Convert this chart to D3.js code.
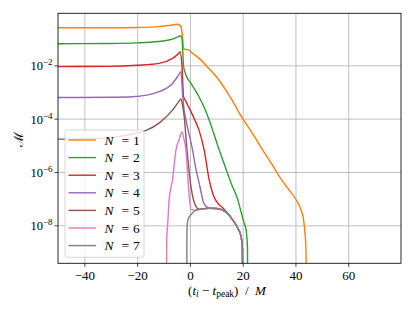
<!DOCTYPE html>
<html lang="en">
<head>
<meta charset="utf-8">
<title>Mismatch vs N</title>
<script src="https://cdn.jsdelivr.net/npm/d3@7/dist/d3.min.js"></script>
<style>
	body { margin: 0; background: #fff; }
	text { font-family: "Liberation Serif", "DejaVu Serif", serif; fill: #000; }
</style>
</head>
<body>
<div id="chart"></div>
<script>
// time (t_i - t_peak)/M and log10 of mismatch
var t1 = [-50, -30, -20, -12, -8, -6, -4.8, -4.3, -3.4, -2.8, -2.4, -1.8, -0.5, 1, 3.5, 7, 11, 15, 20, 24, 27.6, 31, 34, 37, 40.3, 42, 43, 43.7, 44.0, 44.3];
var logM1 = [-0.59, -0.59, -0.58, -0.55, -0.51, -0.48, -0.46, -0.47, -0.55, -0.93, -1.36, -1.40, -1.42, -1.55, -1.74, -2.1, -2.55, -3.15, -4.0, -4.6, -5.18, -5.7, -6.18, -6.6, -7.05, -7.4, -7.75, -8.4, -9.0, -12];

var t2 = [-50, -30, -20, -12, -8, -6, -4.5, -3.6, -3.0, -2.7, -2.4, -1.5, 0.5, 2, 3.5, 5.5, 7.3, 9, 11.1, 13, 15.6, 18, 19.4, 20.5, 21.3, 21.8, 22.1];
var logM2 = [-1.19, -1.18, -1.16, -1.11, -1.05, -1.0, -0.93, -0.89, -1.0, -1.5, -2.05, -2.36, -2.7, -2.93, -3.19, -3.6, -4.05, -4.55, -5.18, -5.7, -6.42, -7.0, -7.5, -7.9, -8.18, -8.8, -12];

var t3 = [-50, -30, -20, -11.7, -6.6, -4.5, -3.7, -3.0, -2.4, -1.8, -0.3, 2.3, 3.5, 5.4, 7.3, 9.2, 11, 12.5, 14.5, 16.2, 18, 19.4, 19.9, 20.1];
var logM3 = [-2.05, -2.04, -2.0, -1.93, -1.74, -1.58, -1.49, -2.05, -3.18, -3.3, -3.6, -4.15, -4.45, -5.18, -6.3, -6.95, -7.22, -7.35, -7.58, -7.8, -8.08, -8.43, -8.9, -12];

var t4 = [-50, -30, -21.8, -11.7, -6.6, -4.5, -3.4, -2.8, -2.2, -1.5, 1.0, 2.3, 3.5, 5.4, 7.3, 10, 12.4, 14.5, 16.2, 18, 19.4, 19.9, 20.1];
var logM4 = [-3.21, -3.2, -3.18, -2.99, -2.68, -2.4, -2.24, -3.05, -3.68, -4.05, -5.18, -5.9, -6.42, -7.2, -7.36, -7.37, -7.43, -7.58, -7.8, -8.08, -8.43, -8.9, -12];

var t5 = [-50, -35, -21.8, -11.7, -6.6, -4.5, -3.4, -2.8, -2.2, -1.1, 0.4, 2.3, 3.5, 5, 7.3, 10, 12.4, 14.5, 16.2, 18, 19.4, 19.9, 20.1];
var logM5 = [-4.77, -4.74, -4.58, -4.17, -3.68, -3.4, -3.26, -3.5, -3.9, -5.18, -6.55, -7.3, -7.4, -7.38, -7.36, -7.37, -7.43, -7.58, -7.8, -8.08, -8.43, -8.9, -12];

var t6 = [-8.95, -8.8, -8.25, -7.9, -6.6, -5.3, -4.0, -3.0, -2.3, -1.5, -0.65, 0.4, 2.3, 5, 7.3, 10, 12.4, 14.5, 16.2, 18, 19.4, 19.9, 20.1];
var logM6 = [-12, -8.6, -7.68, -7.05, -6.3, -5.18, -4.75, -4.5, -4.75, -5.18, -6.42, -7.4, -7.43, -7.38, -7.36, -7.37, -7.43, -7.58, -7.8, -8.08, -8.43, -8.9, -12];

var t7 = [-1.2, -1.15, -1.05, -0.6, 0.4, 2.3, 5, 7.3, 10, 12.4, 14.5, 16.2, 18, 19.4, 19.9, 20.1];
var logM7 = [-12, -8.4, -8.0, -7.75, -7.6, -7.43, -7.38, -7.36, -7.37, -7.43, -7.58, -7.8, -8.08, -8.43, -8.9, -12];

var nValues = [1, 2, 3, 4, 5, 6, 7];
var colors = ["#ff7f0e", "#2ca02c", "#d62728", "#9467bd", "#8c564b", "#e377c2", "#7f7f7f"];
var xTicks = [-40, -20, 0, 20, 40, 60];
var yTickExp = [-2, -4, -6, -8];

var allT = [t1, t2, t3, t4, t5, t6, t7];
var allLogM = [logM1, logM2, logM3, logM4, logM5, logM6, logM7];

var w = 415;
var h = 311;
var pLeft = 58, pRight = 401, pTop = 13.3, pBottom = 263.3;

var xScale = d3.scaleLinear()
	.domain([-50, 80])
	.range([pLeft, pRight]);

var yScale = d3.scaleLog()
	.domain([Math.pow(10, -9.425), Math.pow(10, -0.05)])
	.range([pBottom, pTop]);

var svg = d3.select("#chart").append("svg")
	.attr("width", w)
	.attr("height", h);

svg.append("defs").append("clipPath")
	.attr("id", "plotclip")
	.append("rect")
	.attr("x", pLeft)
	.attr("y", pTop)
	.attr("width", pRight - pLeft)
	.attr("height", pBottom - pTop);

var yTickVals = yTickExp.map(function(e) { return Math.pow(10, e); });

// grid
var grid = svg.append("g");
grid.append("g")
	.attr("transform", "translate(0," + pBottom + ")")
	.call(d3.axisBottom(xScale).tickValues(xTicks).tickSize(-(pBottom - pTop)).tickFormat(""));
grid.append("g")
	.attr("transform", "translate(" + pLeft + ",0)")
	.call(d3.axisLeft(yScale).tickValues(yTickVals).tickSize(-(pRight - pLeft)).tickFormat(""));
grid.selectAll(".domain").remove();
grid.selectAll(".tick line").attr("stroke", "#b0b0b0").attr("stroke-width", 0.8);

// curves
var line = d3.line()
	.x(function(d) { return xScale(d[0]); })
	.y(function(d) { return yScale(Math.pow(10, d[1])); })
	.curve(d3.curveMonotoneX);

var curves = svg.append("g").attr("clip-path", "url(#plotclip)");
nValues.forEach(function(n, i) {
	var pts = allT[i].map(function(t, j) { return [t, allLogM[i][j]]; });
	curves.append("path")
		.datum(pts)
		.attr("d", line)
		.attr("fill", "none")
		.attr("stroke", colors[i])
		.attr("stroke-width", 1.4);
});

// frame
svg.append("rect")
	.attr("x", pLeft)
	.attr("y", pTop)
	.attr("width", pRight - pLeft)
	.attr("height", pBottom - pTop)
	.attr("fill", "none")
	.attr("stroke", "#111")
	.attr("stroke-width", 0.9);

// axes with ticks
var xAxis = svg.append("g")
	.attr("transform", "translate(0," + pBottom + ")")
	.call(d3.axisBottom(xScale).tickValues(xTicks).tickSize(3.5).tickPadding(3.5)
		.tickFormat(function(d) { return d < 0 ? "\u2212" + Math.abs(d) : d; }));
xAxis.select(".domain").remove();
xAxis.selectAll("line").attr("stroke", "#111").attr("stroke-width", 0.8);
xAxis.selectAll("text").attr("font-size", 13);

var yAxis = svg.append("g")
	.attr("transform", "translate(" + pLeft + ",0)")
	.call(d3.axisLeft(yScale).tickValues(yTickVals).tickSize(3.5).tickPadding(3.5).tickFormat(""));
yAxis.select(".domain").remove();
yAxis.selectAll("line").attr("stroke", "#111").attr("stroke-width", 0.8);
yAxis.selectAll(".tick text").remove();
yAxis.selectAll(".tick").each(function(d, i) {
	var txt = d3.select(this).append("text")
		.attr("x", -5.5)
		.attr("y", 4.5)
		.attr("text-anchor", "end")
		.attr("font-size", 12.5);
	txt.append("tspan").text("10");
	txt.append("tspan")
		.attr("dy", -5)
		.attr("font-size", 9)
		.text("\u2212" + Math.abs(yTickExp[i]));
});

// axis labels
var xl = svg.append("text")
	.attr("x", 227)
	.attr("y", 294.5)
	.attr("text-anchor", "middle")
	.attr("font-size", 13);
xl.append("tspan").text("(");
xl.append("tspan").attr("font-style", "italic").text("t");
xl.append("tspan").attr("font-style", "italic").attr("font-size", 9.5).attr("dy", 2.5).text("i");
xl.append("tspan").attr("dy", -2.5).text(" \u2212 ");
xl.append("tspan").attr("font-style", "italic").text("t");
xl.append("tspan").attr("font-size", 9.5).attr("dy", 2.5).text("peak");
xl.append("tspan").attr("dy", -2.5).text(")\u2002/\u2002");
xl.append("tspan").attr("font-style", "italic").text("M");

svg.append("text")
	.attr("transform", "translate(23,139.5) rotate(-90)")
	.attr("text-anchor", "middle")
	.style("font-family", "DejaVu Serif")
	.attr("font-size", 13)
	.text("\u2133");

// legend
var legend = svg.append("g");
legend.append("rect")
	.attr("x", 65)
	.attr("y", 130)
	.attr("width", 79)
	.attr("height", 127.3)
	.attr("rx", 2.5)
	.attr("fill", "#fff")
	.attr("fill-opacity", 0.8)
	.attr("stroke", "#cccccc")
	.attr("stroke-width", 0.8);

nValues.forEach(function(n, i) {
	var yy = 140 + i * 17.6;
	legend.append("line")
		.attr("x1", 68.5)
		.attr("x2", 96)
		.attr("y1", yy)
		.attr("y2", yy)
		.attr("stroke", colors[i])
		.attr("stroke-width", 1.4);
	var lt = legend.append("text")
		.attr("y", yy + 4.5)
		.attr("font-size", 13.5);
	lt.append("tspan").attr("x", 104.5).attr("font-style", "italic").text("N");
	lt.append("tspan").attr("x", 121.5).text("=");
	lt.append("tspan").attr("x", 133).text(n);
});
</script>
</body>
</html>
